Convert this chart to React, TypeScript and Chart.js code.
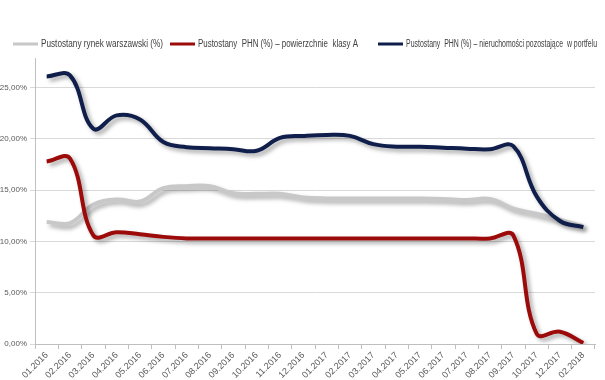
import React, { useEffect, useRef } from "react";
import { Chart, registerables } from "chart.js";

Chart.register(...registerables);

const categories = [
  "01.2016", "02.2016", "03.2016", "04.2016", "05.2016", "06.2016", "07.2016", "08.2016",
  "09.2016", "10.2016", "11.2016", "12.2016", "01.2017", "02.2017", "03.2017", "04.2017",
  "05.2017", "06.2017", "07.2017", "08.2017", "09.2017", "10.2017", "12.2017", "02.2018",
];

const warsawMarket = [
  11.9, 11.8, 13.6, 14.1, 13.9, 15.2, 15.4, 15.4, 14.7, 14.65, 14.65, 14.3,
  14.2, 14.2, 14.2, 14.2, 14.2, 14.15, 14.05, 14.15, 13.2, 12.7, 12.1, 11.5,
];

const phnClassA = [
  17.8, 18.1, 10.6, 10.9, 10.7, 10.45, 10.3, 10.3, 10.3, 10.3, 10.3, 10.3,
  10.3, 10.3, 10.3, 10.3, 10.3, 10.3, 10.3, 10.3, 10.6, 1.0, 1.2, 0.1,
];

const phnOther = [
  26.1, 26.2, 21.0, 22.3, 21.9, 19.7, 19.2, 19.1, 19.0, 18.85, 20.1, 20.3,
  20.4, 20.3, 19.5, 19.25, 19.25, 19.15, 19.05, 19.0, 19.3, 14.4, 12.0, 11.4,
];

const seriesNames = [
  "Pustostany rynek warszawski (%)",
  "Pustostany  PHN (%) – powierzchnie  klasy A",
  "Pustostany  PHN (%) – nieruchomości pozostające  w portfelu",
];

const FONT = "'Liberation Sans', Arial, sans-serif";

const shadowPlugin = {
  id: "lineShadow",
  beforeDatasetDraw(chart: any) {
    const ctx = chart.ctx;
    ctx.save();
    ctx.shadowColor = "rgba(0,0,0,0.35)";
    ctx.shadowBlur = 4;
    ctx.shadowOffsetX = 3;
    ctx.shadowOffsetY = 3;
  },
  afterDatasetDraw(chart: any) {
    chart.ctx.restore();
  },
};

// Legend drawn as condensed text (the original uses a narrow face)
const condensedLegend = {
  id: "condensedLegend",
  afterDraw(chart: any) {
    const ctx = chart.ctx;
    const starts = [13, 170, 378];
    const widths = [122, 160, 191];
    const y = 44;
    chart.data.datasets.forEach((ds: any, i: number) => {
      const x0 = starts[i];
      ctx.save();
      ctx.fillStyle = ds.borderColor;
      ctx.fillRect(x0, y - 1.5, 25, 3);
      ctx.font = `10px ${FONT}`;
      ctx.fillStyle = "#404040";
      ctx.textBaseline = "middle";
      ctx.textAlign = "left";
      ctx.fillText(ds.label, x0 + 28, y, widths[i]);
      ctx.restore();
    });
  },
};

export default function App() {
  const ref = useRef<HTMLCanvasElement | null>(null);

  useEffect(() => {
    document.body.style.margin = "0";
    const colors = ["#c8c8c8", "#9c0a0a", "#0f1e4b"];
    const data = [warsawMarket, phnClassA, phnOther];
    const chart = new Chart(ref.current as HTMLCanvasElement, {
      type: "line",
      data: {
        labels: categories,
        datasets: data.map((d, i) => ({
          label: seriesNames[i],
          data: d,
          borderColor: colors[i],
          backgroundColor: colors[i],
          borderWidth: 4,
          pointRadius: 0,
          tension: 0.4,
          fill: false,
          order: 2 - i,
        })),
      },
      options: {
        animation: false,
        responsive: true,
        maintainAspectRatio: false,
        layout: { padding: { left: 0, right: 10, top: 58, bottom: 0 } },
        plugins: {
          tooltip: { enabled: false },
          legend: { display: false },
        },
        scales: {
          x: {
            offset: true,
            afterFit: (scale: any) => {
              scale.height = 36;
            },
            grid: {
              display: true,
              offset: true,
              drawOnChartArea: false,
              drawTicks: true,
              tickLength: 5,
              color: "#bfbfbf",
            },
            border: { color: "#bfbfbf" },
            ticks: {
              autoSkip: false,
              minRotation: 45,
              maxRotation: 45,
              color: "#595959",
              padding: 1,
              font: { family: FONT, size: 9 },
            },
          },
          y: {
            min: 0,
            max: 27.9,
            afterBuildTicks: (scale: any) => {
              scale.ticks = scale.ticks.filter((t: any) => Math.abs(t.value % 5) < 1e-6);
            },
            afterFit: (scale: any) => {
              scale.width = 35;
            },
            grid: { color: "#d9d9d9", tickLength: 5 },
            border: { color: "#bfbfbf" },
            ticks: {
              stepSize: 5,
              color: "#595959",
              padding: 3,
              font: { family: FONT, size: 8 },
              callback: (v: any) => Number(v).toFixed(2).replace(".", ",") + "%",
            },
          },
        },
      },
      plugins: [shadowPlugin, condensedLegend],
    });
    return () => chart.destroy();
  }, []);

  return (
    <div style={{ width: 605, height: 380, position: "relative" }}>
      <canvas ref={ref} />
    </div>
  );
}
